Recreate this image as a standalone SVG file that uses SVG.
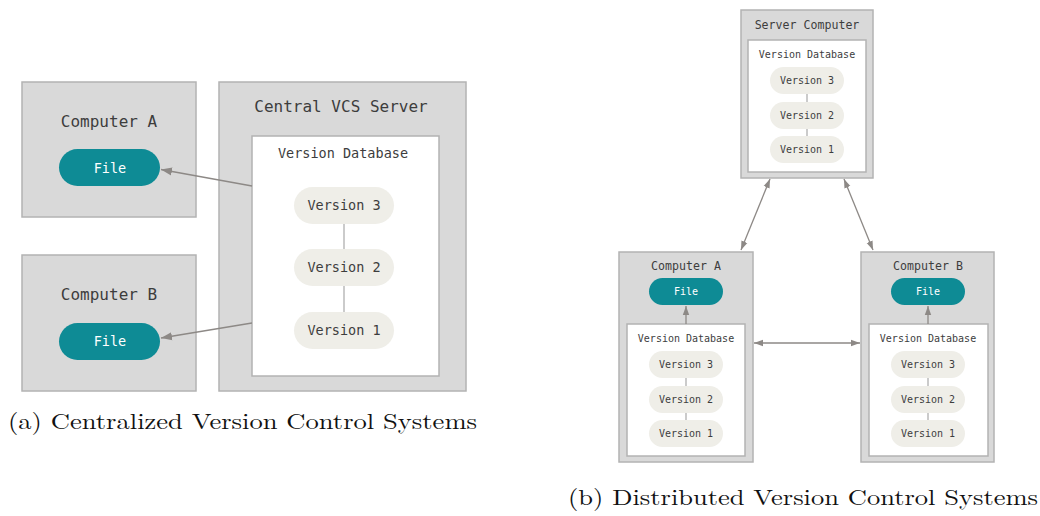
<svg xmlns="http://www.w3.org/2000/svg" width="1040" height="516" viewBox="0 0 1040 516">
  <style>
    .box { fill: #d9d9d9; stroke: #b3b3b3; stroke-width: 1.5; }
    .db { fill: #ffffff; stroke: #b3b3b3; stroke-width: 1.5; }
    .file { fill: #0e8b95; }
    .ver { fill: #efeee8; }
    .mono { font-family: "DejaVu Sans Mono", "Liberation Mono", monospace; fill: #3d3d3d; text-anchor: middle; }
    .filet { font-family: "DejaVu Sans Mono", "Liberation Mono", monospace; fill: #ffffff; text-anchor: middle; }
    .link { stroke: #a8a8a8; stroke-width: 1.2; fill: none; }
    .arrow { stroke: #8d8986; stroke-width: 1.3; fill: none; }
    .cap { font-family: "Latin Modern Roman", "Liberation Serif", serif; fill: #111111; font-size: 22px; }
  </style>
  <defs>
    <marker id="headL" markerUnits="userSpaceOnUse" markerWidth="12" markerHeight="10" refX="11" refY="5" orient="auto-start-reverse">
      <path d="M0,1 L11,5 L0,9 Z" fill="#8d8986"/>
    </marker>
    <marker id="headS" markerUnits="userSpaceOnUse" markerWidth="10" markerHeight="8" refX="9" refY="4" orient="auto-start-reverse">
      <path d="M0,0.8 L9,4 L0,7.2 Z" fill="#8d8986"/>
    </marker>
  </defs>

  <rect width="1040" height="516" fill="#ffffff"/>

  <!-- (a) centralized -->
  <g id="cvcs-computer-a">
    <rect class="box" x="22" y="82" width="174" height="135"/>
    <text class="mono" x="109" y="127" font-size="16">Computer A</text>
    <rect class="file" x="59" y="149" width="101" height="37" rx="18.5"/>
    <text class="filet" x="110" y="173" font-size="13.5">File</text>
  </g>
  <g id="cvcs-computer-b">
    <rect class="box" x="22" y="255" width="174" height="136"/>
    <text class="mono" x="109" y="300" font-size="16">Computer B</text>
    <rect class="file" x="59" y="323" width="101" height="37" rx="18.5"/>
    <text class="filet" x="110" y="346" font-size="13.5">File</text>
  </g>
  <g id="cvcs-server">
    <rect class="box" x="219" y="82" width="247" height="309"/>
    <text class="mono" x="341" y="112" font-size="16">Central VCS Server</text>
    <rect class="db" x="252" y="136" width="187" height="240"/>
    <text class="mono" x="343" y="158" font-size="13.5">Version Database</text>
    <line class="link" x1="344" y1="223" x2="344" y2="249"/>
    <line class="link" x1="344" y1="286" x2="344" y2="312"/>
    <rect class="ver" x="294" y="187" width="100" height="37" rx="18.5"/>
    <text class="mono" x="344" y="210" font-size="13.5">Version 3</text>
    <rect class="ver" x="294" y="249" width="100" height="37" rx="18.5"/>
    <text class="mono" x="344" y="272" font-size="13.5">Version 2</text>
    <rect class="ver" x="294" y="312" width="100" height="37" rx="18.5"/>
    <text class="mono" x="344" y="335" font-size="13.5">Version 1</text>
  </g>
  <g id="cvcs-connectors">
    <line class="arrow" x1="252" y1="186" x2="161" y2="169.5" marker-end="url(#headL)"/>
    <line class="arrow" x1="252" y1="323" x2="161" y2="338" marker-end="url(#headL)"/>
  </g>
  <text class="cap" x="8" y="429" textLength="469" lengthAdjust="spacingAndGlyphs">(a) Centralized Version Control Systems</text>

  <!-- (b) distributed -->
  <g id="dvcs-server">
    <rect class="box" x="741" y="10" width="132" height="168"/>
    <text class="mono" x="807" y="29" font-size="11.6">Server Computer</text>
    <rect class="db" x="748" y="40" width="118" height="132"/>
    <text class="mono" x="807" y="58" font-size="10">Version Database</text>
    <line class="link" x1="807" y1="93" x2="807" y2="102"/>
    <line class="link" x1="807" y1="128" x2="807" y2="136"/>
    <rect class="ver" x="770" y="67" width="74" height="27" rx="13.5"/>
    <text class="mono" x="807" y="84" font-size="10">Version 3</text>
    <rect class="ver" x="770" y="102" width="74" height="27" rx="13.5"/>
    <text class="mono" x="807" y="119" font-size="10">Version 2</text>
    <rect class="ver" x="770" y="136" width="74" height="27" rx="13.5"/>
    <text class="mono" x="807" y="153" font-size="10">Version 1</text>
  </g>
  <g id="dvcs-computer-a">
    <rect class="box" x="619" y="252" width="134" height="210"/>
    <text class="mono" x="686" y="270" font-size="11.6">Computer A</text>
    <rect class="file" x="649" y="278" width="74" height="27" rx="13.5"/>
    <text class="filet" x="686" y="295" font-size="10">File</text>
    <rect class="db" x="627" y="324" width="118" height="132"/>
    <text class="mono" x="686" y="342" font-size="10">Version Database</text>
    <line class="link" x1="686" y1="377" x2="686" y2="386"/>
    <line class="link" x1="686" y1="412" x2="686" y2="420"/>
    <rect class="ver" x="649" y="351" width="74" height="27" rx="13.5"/>
    <text class="mono" x="686" y="368" font-size="10">Version 3</text>
    <rect class="ver" x="649" y="386" width="74" height="27" rx="13.5"/>
    <text class="mono" x="686" y="403" font-size="10">Version 2</text>
    <rect class="ver" x="649" y="420" width="74" height="27" rx="13.5"/>
    <text class="mono" x="686" y="437" font-size="10">Version 1</text>
  </g>
  <g id="dvcs-computer-b">
    <rect class="box" x="861" y="252" width="133" height="210"/>
    <text class="mono" x="928" y="270" font-size="11.6">Computer B</text>
    <rect class="file" x="891" y="278" width="74" height="27" rx="13.5"/>
    <text class="filet" x="928" y="295" font-size="10">File</text>
    <rect class="db" x="869" y="324" width="119" height="132"/>
    <text class="mono" x="928" y="342" font-size="10">Version Database</text>
    <line class="link" x1="928" y1="377" x2="928" y2="386"/>
    <line class="link" x1="928" y1="412" x2="928" y2="420"/>
    <rect class="ver" x="891" y="351" width="74" height="27" rx="13.5"/>
    <text class="mono" x="928" y="368" font-size="10">Version 3</text>
    <rect class="ver" x="891" y="386" width="74" height="27" rx="13.5"/>
    <text class="mono" x="928" y="403" font-size="10">Version 2</text>
    <rect class="ver" x="891" y="420" width="74" height="27" rx="13.5"/>
    <text class="mono" x="928" y="437" font-size="10">Version 1</text>
  </g>
  <g id="dvcs-connectors">
    <line class="arrow" x1="770" y1="179" x2="741" y2="250" marker-start="url(#headS)" marker-end="url(#headS)"/>
    <line class="arrow" x1="844" y1="179" x2="873" y2="250" marker-start="url(#headS)" marker-end="url(#headS)"/>
    <line class="arrow" x1="754" y1="343" x2="860" y2="343" marker-start="url(#headS)" marker-end="url(#headS)"/>
    <line class="arrow" x1="686" y1="324" x2="686" y2="306" marker-end="url(#headS)"/>
    <line class="arrow" x1="928" y1="324" x2="928" y2="306" marker-end="url(#headS)"/>
  </g>
  <text class="cap" x="568" y="505" textLength="470" lengthAdjust="spacingAndGlyphs">(b) Distributed Version Control Systems</text>
</svg>
